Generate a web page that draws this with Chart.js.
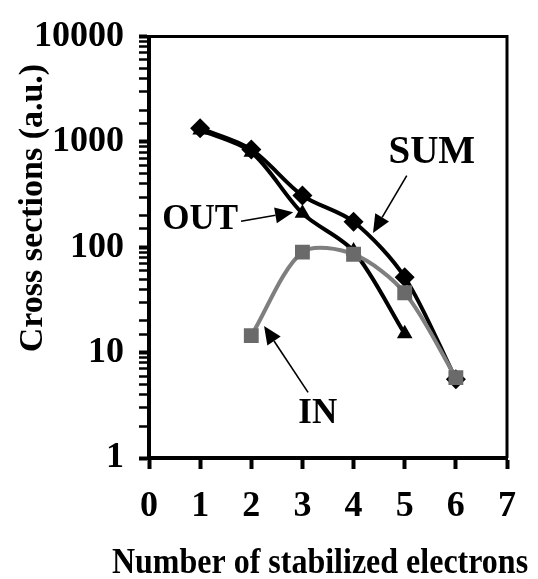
<!DOCTYPE html>
<html>
<head>
<meta charset="utf-8">
<script src="https://cdn.jsdelivr.net/npm/chart.js@4.4.1/dist/chart.umd.min.js"></script>
<style>
    html, body { margin: 0; padding: 0; background: #fff; }
    #wrap { width: 538px; height: 579px; }
</style>
</head>
<body>
<div id="wrap"><canvas id="crossChart" width="538" height="579"></canvas></div>
<script>
// Values
const electrons = [1, 2, 3, 4, 5, 6];
const sumValues = [1350, 850, 310, 175, 52, 5.6];
const outValues = [1300, 800, 210, 92, 15.1, null];
const inValues = [null, 14.5, 90, 86, 37, 5.8];
const xTickValues = [0, 1, 2, 3, 4, 5, 6, 7];
const yTickLabels = [1, 10, 100, 1000, 10000];
const xTitle = 'Number of stabilized electrons';
const yTitle = 'Cross sections (a.u.)';

// Labels with arrows, placed in data units
const notes = [
    { text: 'SUM', x: 5.53, y: 780, size: 39, from: [5.04, 480], to: [4.38, 137] },
    { text: 'OUT', x: 1.0, y: 181, size: 35, from: [1.8, 177], to: [2.82, 215] },
    { text: 'IN', x: 3.3, y: 2.6, size: 35, from: [3.11, 4.2], to: [2.25, 17.9] }
];

const FONT = "'Liberation Serif', 'Times New Roman', serif";

function toPoints(values) {
    return electrons
        .map((x, i) => ({ x: x, y: values[i] }))
        .filter(p => p.y !== null);
}

function drawArrow(ctx, x1, y1, x2, y2) {
    const ang = Math.atan2(y2 - y1, x2 - x1);
    const head = 18, half = 8;
    ctx.beginPath();
    ctx.moveTo(x1, y1);
    ctx.lineTo(x2 - Math.cos(ang) * head, y2 - Math.sin(ang) * head);
    ctx.stroke();
    ctx.beginPath();
    ctx.moveTo(x2, y2);
    ctx.lineTo(x2 - Math.cos(ang) * head - Math.sin(ang) * half, y2 - Math.sin(ang) * head + Math.cos(ang) * half);
    ctx.lineTo(x2 - Math.cos(ang) * head + Math.sin(ang) * half, y2 - Math.sin(ang) * head - Math.cos(ang) * half);
    ctx.closePath();
    ctx.fill();
}

// frame, axis titles (drawn here so the canvas doesn't squeeze them) and the arrow notes
const frameAndNotes = {
    id: 'frameAndNotes',
    afterDraw(chart) {
        const { ctx, chartArea: a, scales } = chart;
        ctx.save();
        ctx.strokeStyle = '#000';
        ctx.lineWidth = 3;
        ctx.beginPath();
        ctx.moveTo(a.left, a.top);
        ctx.lineTo(a.right, a.top);
        ctx.lineTo(a.right, a.bottom);
        ctx.stroke();

        ctx.fillStyle = '#000';
        ctx.textAlign = 'center';
        ctx.textBaseline = 'alphabetic';

        // x title is a bit taller than the font's natural shape in the original
        ctx.save();
        ctx.translate(320, 573);
        ctx.scale(1, 1.1);
        ctx.font = 'bold 32px ' + FONT;
        ctx.fillText(xTitle, 0, 0);
        ctx.restore();

        ctx.save();
        ctx.translate(42, 208);
        ctx.rotate(-Math.PI / 2);
        ctx.font = 'bold 34px ' + FONT;
        ctx.fillText(yTitle, 0, 0);
        ctx.restore();

        ctx.lineWidth = 1.6;
        ctx.textBaseline = 'middle';
        notes.forEach(n => {
            ctx.font = 'bold ' + n.size + 'px ' + FONT;
            ctx.fillText(n.text, scales.x.getPixelForValue(n.x), scales.y.getPixelForValue(n.y));
            drawArrow(ctx,
                scales.x.getPixelForValue(n.from[0]), scales.y.getPixelForValue(n.from[1]),
                scales.x.getPixelForValue(n.to[0]), scales.y.getPixelForValue(n.to[1]));
        });
        ctx.restore();
    }
};

new Chart(document.getElementById('crossChart'), {
    type: 'line',
    data: {
        datasets: [
            {
                label: 'IN',
                data: toPoints(inValues),
                borderColor: '#7f7f7f',
                backgroundColor: '#6a6a6a',
                borderWidth: 4,
                pointStyle: 'rect',
                pointRadius: 10.5,
                pointBorderWidth: 0,
                tension: 0.3,
                order: 0
            },
            {
                label: 'SUM',
                data: toPoints(sumValues),
                borderColor: '#000',
                backgroundColor: '#000',
                borderWidth: 4,
                pointStyle: 'rectRot',
                pointRadius: 10,
                pointBorderWidth: 0,
                tension: 0.3,
                order: 1
            },
            {
                label: 'OUT',
                data: toPoints(outValues),
                borderColor: '#000',
                backgroundColor: '#000',
                borderWidth: 4,
                pointStyle: 'triangle',
                pointRadius: 9,
                pointBorderWidth: 0,
                tension: 0.3,
                order: 2
            }
        ]
    },
    options: {
        responsive: false,
        animation: false,
        layout: { padding: { left: 0, top: 24, right: 31, bottom: 0 } },
        plugins: {
            legend: { display: false },
            tooltip: { enabled: false }
        },
        scales: {
            x: {
                type: 'linear',
                min: 0,
                max: 7,
                afterFit: s => { s.height = 121; },
                afterBuildTicks: s => { s.ticks = xTickValues.map(v => ({ value: v })); },
                border: { display: true, color: '#000', width: 4 },
                grid: { display: true, drawOnChartArea: false, drawTicks: true, tickLength: 11, tickWidth: 4, tickColor: '#000' },
                ticks: {
                    padding: 16,
                    color: '#000',
                    font: { family: FONT, size: 36, weight: 'bold' }
                }
            },
            y: {
                type: 'logarithmic',
                min: 1,
                max: 10000,
                afterFit: s => { s.width = 149; },
                border: { display: true, color: '#000', width: 4 },
                grid: {
                    display: true,
                    drawOnChartArea: false,
                    drawTicks: true,
                    tickLength: 10,
                    tickColor: '#000',
                    tickWidth: c => (yTickLabels.includes(c.tick.value) ? 4 : 2.5)
                },
                ticks: {
                    autoSkip: false,
                    padding: 15,
                    color: '#000',
                    font: { family: FONT, size: 36, weight: 'bold' },
                    callback: v => (yTickLabels.includes(v) ? String(v) : '')
                }
            }
        }
    },
    plugins: [frameAndNotes]
});
</script>
</body>
</html>
